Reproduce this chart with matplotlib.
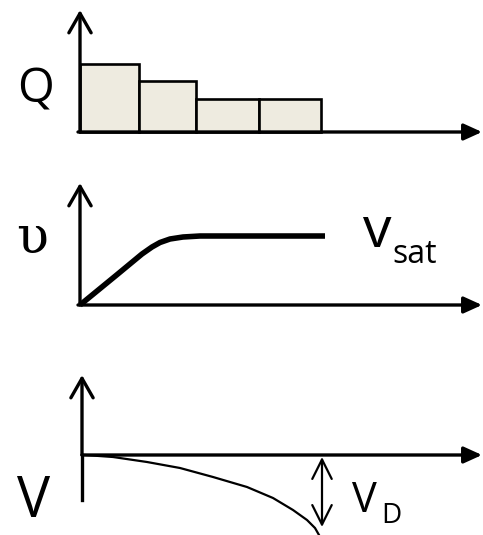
import matplotlib
matplotlib.use("Agg")
import matplotlib.pyplot as plt

# ---- data (units: pixels from each panel's origin) ----
bar_edges = [0, 59, 116, 179, 241]
q_values = [68, 51, 33, 33]

vel_x = [0, 36, 62, 72, 80, 90, 103, 120, 245]
vel_y = [0, 29.5, 51, 58, 62.5, 66, 68, 69, 69]

pot_x = [0, 3, 31, 65, 98, 131, 165, 191, 211, 225, 233, 237]
pot_y = [0, 0, -2, -7, -13, -22, -32, -43, -55, -65, -73, -80]
vd_x = 240
vd_top, vd_bottom = -2, -72

W, H = 483, 535
FONT = ["Open Sans", "DejaVu Sans"]
plt.rcParams["font.family"] = FONT

fig = plt.figure(figsize=(W / 100, H / 100), dpi=100)


def panel(top_px, bot_px, ox, oy):
    # axes spanning the full width, data = pixel offsets from (ox, oy)
    ax = fig.add_axes([0, 1 - bot_px / H, 1, (bot_px - top_px) / H])
    ax.set_xlim(-ox, W - ox)
    ax.set_ylim(oy - bot_px, oy - top_px)
    ax.axis("off")
    return ax


def open_arrow(ax, start, end, lw=2.4, hl=1.4, hw=0.8):
    ax.annotate("", xy=end, xytext=start,
                arrowprops=dict(arrowstyle=f"->,head_length={hl},head_width={hw}",
                                lw=lw, color="black", shrinkA=0, shrinkB=0,
                                mutation_scale=10))


def solid_arrow(ax, start, end, lw=2.4):
    ax.annotate("", xy=end, xytext=start,
                arrowprops=dict(arrowstyle="-|>,head_length=1.1,head_width=0.5",
                                lw=lw, color="black", fc="black", shrinkA=0, shrinkB=0,
                                mutation_scale=10))


# ---- panel 1: charge Q ----
ax1 = panel(0, 160, 80, 132)
widths = [b - a for a, b in zip(bar_edges[:-1], bar_edges[1:])]
ax1.bar(bar_edges[:-1], q_values, width=widths, align="edge",
        color="#EEEBE0", edgecolor="black", linewidth=1.9, zorder=2)
open_arrow(ax1, (0, 0), (0, 122))
solid_arrow(ax1, (-2, 0), (402, 0))
ax1.text(-63, 29, "Q", fontsize=34, ha="left", va="baseline")

# ---- panel 2: velocity ----
ax2 = panel(170, 320, 80, 305)
ax2.plot(vel_x, vel_y, color="black", lw=4, solid_capstyle="butt",
         solid_joinstyle="round", zorder=3)
open_arrow(ax2, (0, 0), (0, 122))
solid_arrow(ax2, (-2, 0), (402, 0))
ax2.text(-64, 52, "\u03c5", fontsize=38, ha="left", va="baseline",
         family=["DejaVu Serif"])
ax2.text(283, 58, "v", fontsize=41, ha="left", va="baseline")
ax2.text(312, 42, "sat", fontsize=23, ha="left", va="baseline")

# ---- panel 3: potential ----
ax3 = panel(360, 535, 82, 455)
ax3.plot([0, 0], [-45, 0], color="black", lw=2.4)
open_arrow(ax3, (0, 0), (0, 80))
solid_arrow(ax3, (0, 0), (400, 0))
ax3.plot(pot_x, pot_y, color="black", lw=1.6, zorder=3)
ax3.annotate("", xy=(vd_x, vd_top), xytext=(vd_x, vd_bottom),
             arrowprops=dict(arrowstyle="<->,head_length=1.4,head_width=0.7",
                             lw=1.6, color="black", shrinkA=0, shrinkB=0,
                             mutation_scale=10))
ax3.text(-65, -62, "V", fontsize=40, ha="left", va="baseline")
ax3.text(270, -57, "V", fontsize=30, ha="left", va="baseline")
ax3.text(299, -68, "D", fontsize=20, ha="left", va="baseline")

fig.savefig("out.png", dpi=100)
